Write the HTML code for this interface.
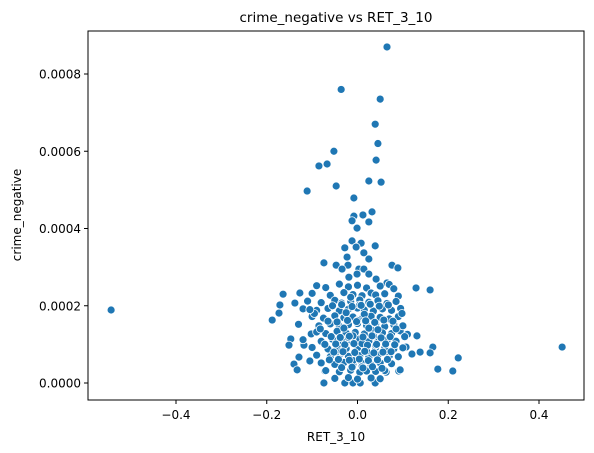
<!DOCTYPE html>
<html><head><meta charset="utf-8"><style>
html,body{margin:0;padding:0;background:#fff;}
svg{display:block;font-family:"DejaVu Sans","Liberation Sans",sans-serif;}
</style></head><body>
<svg id="chart" width="594" height="453" viewBox="0 0 594 453">
<rect x="0" y="0" width="594" height="453" fill="#fff"/>
<text x="336" y="22" text-anchor="middle" font-size="13.5" fill="#000">crime_negative vs RET_3_10</text>
<g id="points"></g>
<rect x="88" y="31" width="496" height="369" fill="none" stroke="#000" stroke-width="1"/>
<g id="xticks"></g>
<g id="yticks"></g>
<text x="336" y="441" text-anchor="middle" font-size="12" fill="#000">RET_3_10</text>
<text transform="translate(21,215) rotate(-90)" text-anchor="middle" font-size="12" fill="#000">crime_negative</text>
</svg>
<script>
const xTickValues = [-0.4, -0.2, 0.0, 0.2, 0.4];
const xTickLabels = ["\u22120.4", "\u22120.2", "0.0", "0.2", "0.4"];
const yTickValues = [0, 0.0002, 0.0004, 0.0006, 0.0008];
const yTickLabels = ["0.0000", "0.0002", "0.0004", "0.0006", "0.0008"];
const retValues = [
-0.543,0.451,0.065,-0.036,0.050,0.039,0.045,-0.052,0.041,-0.085,-0.067,-0.047,-0.111,0.025,0.052,-0.008,
-0.008,0.012,0.032,-0.012,0.025,-0.001,-0.012,0.008,0.039,-0.028,-0.003,0.014,0.025,-0.023,-0.074,-0.047,-0.021,-0.034,0.076,0.089,0.003,0.014,0.025,-0.001,-0.019,0.041,0.065,0.129,0.160,
-0.164,-0.127,-0.171,-0.138,-0.173,-0.188,-0.129,-0.102,-0.147,-0.151,-0.118,0.131,0.094,-0.129,-0.140,-0.133,-0.105,0.166,0.160,0.138,0.120,0.107,
-0.074,-0.028,-0.010,0.006,0.039,-0.072,0.091,0.063,0.222,0.177,0.210,0.094,
-0.09,-0.07,-0.04,-0.02,0.0,0.02,0.05,0.07,0.08,
-0.10,-0.06,-0.03,-0.01,0.01,0.03,0.04,0.06,0.09,
-0.11,-0.08,-0.05,-0.035,-0.015,0.005,0.025,0.045,0.065,0.085,
-0.12,-0.09,-0.065,-0.04,-0.02,0.0,0.015,0.035,0.055,0.075,0.095,
-0.10,-0.075,-0.05,-0.03,-0.01,0.01,0.03,0.05,0.07,0.09,
-0.13,-0.085,-0.06,-0.04,-0.02,0.0,0.02,0.04,0.06,0.08,0.10,
-0.09,-0.07,-0.045,-0.025,-0.005,0.015,0.035,0.055,0.075,0.11,
-0.12,-0.08,-0.055,-0.035,-0.015,0.005,0.025,0.045,0.065,0.085,
-0.10,-0.065,-0.045,-0.025,0.0,0.02,0.04,0.06,0.08,0.10,
-0.09,-0.06,-0.04,-0.02,0.005,0.025,0.045,0.07,0.09,
-0.08,-0.05,-0.03,-0.01,0.01,0.03,0.05,0.075,
-0.07,-0.04,-0.015,0.005,0.02,0.04,0.06,
-0.05,-0.02,0.0,0.03,0.05,
-0.03,-0.01,0.01,0.03,0.0,-0.02,0.02,0.04,-0.045,0.015,-0.005,0.035,-0.025,0.005,0.025,-0.035,0.045,-0.015,0.01,-0.01,
-0.055,-0.035,-0.012,0.008,0.028,0.048,0.068,
-0.065,-0.045,-0.022,-0.002,0.018,0.038,0.058,0.078,
-0.058,-0.038,-0.018,0.012,0.032,0.052,0.072,
-0.072,-0.048,-0.028,-0.008,0.022,0.042,0.062,0.082,
-0.052,-0.032,-0.006,0.016,0.036,0.056,0.074,
-0.062,-0.042,-0.018,0.004,0.024,0.044,0.066,
-0.035,-0.012,0.012,0.033,0.054,
-0.082,-0.095,0.085,0.098,-0.105,0.104
];
const crimeValues = [
0.000189,0.000093,0.00087,0.00076,0.000735,0.00067,0.00062,0.0006,0.000577,0.000562,0.000567,0.00051,0.000497,0.000523,0.00052,0.000479,
0.000432,0.000435,0.000443,0.00042,0.000417,0.000401,0.000368,0.000362,0.000355,0.00035,0.000352,0.000337,0.000321,0.000326,0.000311,0.000305,0.000305,0.000295,0.000305,0.000298,0.000295,0.000295,0.000282,0.000282,0.000274,0.000269,0.000259,0.000246,0.000241,
0.00023,0.000233,0.000202,0.000207,0.000181,0.000163,0.000153,0.000127,0.000114,0.000098,0.000098,0.000122,0.000135,0.000067,0.000049,0.000034,0.000057,0.000093,0.000078,0.00008,0.000075,0.000093,
0,0,0,0,0,0.000031,0.000031,0.000028,0.000065,0.000036,0.000031,0.000034,
0.000252,0.000247,0.000256,0.000249,0.000253,0.000246,0.000251,0.000255,0.000244,
0.000232,0.000227,0.000234,0.000229,0.000226,0.000233,0.000228,0.000231,0.000225,
0.000212,0.000208,0.000214,0.000207,0.000211,0.000215,0.000209,0.000213,0.000206,0.000211,
0.000192,0.000188,0.000193,0.000187,0.000191,0.000194,0.000189,0.000186,0.000192,0.000188,0.000193,
0.000172,0.000168,0.000174,0.000169,0.000171,0.000167,0.000173,0.000170,0.000166,0.000172,
0.000152,0.000148,0.000153,0.000147,0.000151,0.000154,0.000149,0.000152,0.000146,0.000151,0.000148,
0.000132,0.000128,0.000134,0.000129,0.000131,0.000127,0.000133,0.000130,0.000128,0.000126,
0.000112,0.000108,0.000113,0.000109,0.000111,0.000114,0.000107,0.000112,0.000110,0.000108,
0.000092,0.000088,0.000093,0.000089,0.000091,0.000087,0.000092,0.000090,0.000088,0.000091,
0.000072,0.000068,0.000073,0.000069,0.000071,0.000067,0.000072,0.000070,0.000068,
0.000052,0.000048,0.000053,0.000049,0.000051,0.000047,0.000052,0.000050,
0.000032,0.000029,0.000033,0.000028,0.000031,0.000030,0.000032,
0.000012,0.000014,0.000010,0.000013,0.000011,
0.000142,0.000122,0.000102,0.000138,0.000162,0.000118,0.000082,0.000098,0.000158,0.000178,0.000062,0.000122,0.000182,0.000202,0.000142,0.000082,0.000138,0.000222,0.000042,0.000058,
0.000200,0.000203,0.000198,0.000201,0.000204,0.000199,0.000202,
0.000160,0.000158,0.000162,0.000159,0.000161,0.000157,0.000163,0.000160,
0.000120,0.000118,0.000121,0.000119,0.000122,0.000117,0.000120,
0.000100,0.000101,0.000099,0.000102,0.000098,0.000100,0.000101,0.000099,
0.000080,0.000081,0.000079,0.000082,0.000078,0.000080,0.000081,
0.000060,0.000061,0.000059,0.000062,0.000058,0.000060,0.000061,
0.000040,0.000041,0.000039,0.000042,0.000038,
0.000140,0.000180,0.000140,0.000180,0.000190,0.000120
];
const NS = "http://www.w3.org/2000/svg";
const L = 88, R = 584, T = 31, B = 400;
function xScale(v) { return 357.5 + v * 453.75; }
function yScale(v) { return 383 - v * 386250; }
const pts = document.getElementById('points');
for (let i = 0; i < retValues.length; i++) {
  const c = document.createElementNS(NS, 'circle');
  c.setAttribute('cx', xScale(retValues[i]));
  c.setAttribute('cy', yScale(crimeValues[i]));
  c.setAttribute('r', 4);
  c.setAttribute('fill', '#1f77b4');
  c.setAttribute('stroke', '#fff');
  c.setAttribute('stroke-width', 0.8);
  
  
  pts.appendChild(c);
}
const xg = document.getElementById('xticks');
for (let i = 0; i < xTickValues.length; i++) {
  const x = xScale(xTickValues[i]);
  const ln = document.createElementNS(NS, 'line');
  ln.setAttribute('x1', x); ln.setAttribute('x2', x);
  ln.setAttribute('y1', B); ln.setAttribute('y2', B + 4);
  ln.setAttribute('stroke', '#000');
  
  
  xg.appendChild(ln);
  const t = document.createElementNS(NS, 'text');
  t.setAttribute('x', x); t.setAttribute('y', B + 19);
  t.setAttribute('text-anchor', 'middle');
  t.setAttribute('font-size', '12');
  t.textContent = xTickLabels[i];
  
  
  xg.appendChild(t);
}
const yg = document.getElementById('yticks');
for (let i = 0; i < yTickValues.length; i++) {
  const y = yScale(yTickValues[i]);
  const ln = document.createElementNS(NS, 'line');
  ln.setAttribute('x1', L - 4); ln.setAttribute('x2', L);
  ln.setAttribute('y1', y); ln.setAttribute('y2', y);
  ln.setAttribute('stroke', '#000');
  
  
  yg.appendChild(ln);
  const t = document.createElementNS(NS, 'text');
  t.setAttribute('x', L - 7); t.setAttribute('y', y + 4.5);
  t.setAttribute('text-anchor', 'end');
  t.setAttribute('font-size', '12');
  t.textContent = yTickLabels[i];
  
  
  yg.appendChild(t);
}
</script>
</body></html>
